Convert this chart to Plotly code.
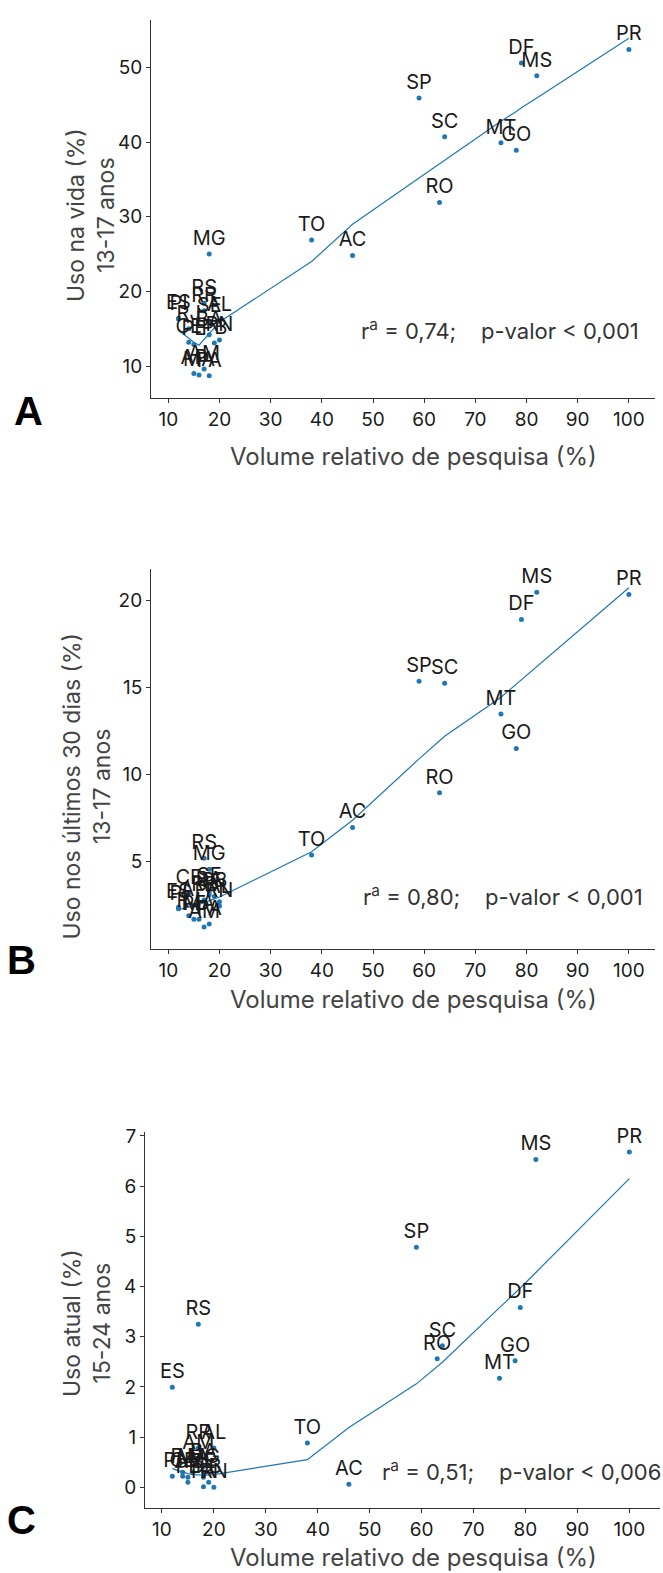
import plotly.graph_objects as go

W, H = 663, 1573

states = ["AC","AL","AP","AM","BA","CE","DF","ES","GO","MA","MT","MS","MG","PA",
          "PB","PR","PE","PI","RJ","RN","RS","RO","RR","SC","SP","SE","TO"]
volume = [46, 20, 15, 17, 18, 14, 79, 12, 78, 16, 75, 82, 18, 18,
          19, 100, 15, 12, 14, 20, 17, 63, 17, 64, 59, 18, 38]
uso_vida = [24.8, 16.1, 9.0, 9.6, 14.2, 13.2, 50.6, 16.4, 38.9, 8.8, 39.9, 48.9, 25.0, 8.7,
            13.1, 52.4, 12.9, 16.3, 15.0, 13.5, 18.4, 31.9, 17.4, 40.7, 45.9, 16.0, 26.9]
uso_30d = [6.96, 2.7, 2.5, 1.25, 3.1, 3.2, 18.9, 2.39, 11.5, 1.7, 13.48, 20.46, 4.56, 1.43,
           3.0, 20.34, 1.7, 2.3, 1.9, 2.46, 5.2, 8.95, 2.8, 15.24, 15.35, 3.3, 5.38]
uso_atual = [0.06, 0.78, 0.2, 0.58, 0.41, 0.22, 3.58, 1.99, 2.52, 0.3, 2.17, 6.53, 0.3, 0.01,
             0.1, 6.68, 0.1, 0.22, 0.3, 0.0, 3.25, 2.56, 0.78, 2.82, 4.78, 0.2, 0.88]

fit_x = [12, 14, 15, 16, 17, 18, 19, 20, 38, 46, 59, 63, 64, 75, 78, 79, 82, 100]
fit_a = [14.8, 13.7, 13.2, 12.8, 13.6, 14.4, 15.1, 15.9, 24.0, 29.0, 35.2, 37.1, 37.6, 42.8, 44.1, 44.6, 45.9, 53.9]
fit_b = [2.25, 2.4, 2.45, 2.55, 2.65, 2.75, 2.85, 2.97, 5.57, 7.38, 10.9, 11.95, 12.2, 14.44, 15.2, 15.45, 16.2, 20.72]
fit_c = [0.37, 0.3, 0.27, 0.25, 0.24, 0.24, 0.24, 0.25, 0.55, 1.19, 2.06, 2.39, 2.49, 3.58, 3.87, 3.97, 4.28, 6.15]

x_ticks = [10, 20, 30, 40, 50, 60, 70, 80, 90, 100]
y_ticks_a = [10, 20, 30, 40, 50]
y_ticks_b = [5, 10, 15, 20]
y_ticks_c = [0, 1, 2, 3, 4, 5, 6, 7]

x_title = "Volume relativo de pesquisa (%)"
y_titles = ["Uso na vida (%)<br>13-17 anos",
            "Uso nos últimos 30 dias (%)<br>13-17 anos",
            "Uso atual (%)<br>15-24 anos"]
stats = ["r<sup>a</sup> = 0,74;\u00a0\u00a0\u00a0\u00a0p-valor < 0,001",
         "r<sup>a</sup> = 0,80;\u00a0\u00a0\u00a0\u00a0p-valor < 0,001",
         "r<sup>a</sup> = 0,51;\u00a0\u00a0\u00a0\u00a0p-valor < 0,006"]
letters = ["A", "B", "C"]

FONT = "Inter"
BLUE = "#1f77b4"

def px(x):
    return x / W

def py(y):
    return 1 - y / H

panels = [
    dict(l=151, r=655, t=13, b=393, xr=[6.62, 105.1], yr=[5.69, 56.36], yt=y_ticks_a,
         ys=uso_vida, fit=fit_a, stat_xy=(500, 324), ytitle_xy=(91, 209),
         xtitle_y=452, letter_xy=(28, 406)),
    dict(l=151, r=655, t=565, b=946, xr=[6.62, 105.1], yr=[0.0, 21.77], yt=y_ticks_b,
         ys=uso_30d, fit=fit_b, stat_xy=(503, 892), ytitle_xy=(87, 783),
         xtitle_y=997, letter_xy=(21, 957)),
    dict(l=145, r=660, t=1130, b=1508, xr=[6.74, 105.9], yr=[-0.42, 7.08], yt=y_ticks_c,
         ys=uso_atual, fit=fit_c, stat_xy=(521, 1470), ytitle_xy=(87, 1322),
         xtitle_y=1557, letter_xy=(21, 1520)),
]

fig = go.Figure()
annotations = []
layout_axes = {}

for i, p in enumerate(panels):
    n = "" if i == 0 else str(i + 1)
    xa, ya = "x" + n, "y" + n
    fig.add_trace(go.Scatter(
        x=fit_x, y=p["fit"], mode="lines", xaxis=xa, yaxis=ya,
        line=dict(color=BLUE, width=1.2), hoverinfo="skip", showlegend=False))
    fig.add_trace(go.Scatter(
        x=volume, y=p["ys"], mode="markers+text", text=states,
        textposition="top center", xaxis=xa, yaxis=ya,
        marker=dict(color=BLUE, size=5),
        textfont=dict(family=FONT, size=20, color="#1a1a1a"),
        cliponaxis=False, showlegend=False))
    axis_common = dict(showline=True, linecolor="#333", linewidth=1, ticks="outside",
                       ticklen=4, tickcolor="#333", showgrid=False, zeroline=False,
                       tickfont=dict(family=FONT, size=19, color="#1a1a1a"))
    layout_axes["xaxis" + n] = dict(domain=[px(p["l"]), px(p["r"])], range=p["xr"],
                                    tickvals=x_ticks, anchor=ya, **axis_common)
    layout_axes["yaxis" + n] = dict(domain=[py(p["b"]), py(p["t"])], range=p["yr"],
                                    tickvals=p["yt"], anchor=xa, **axis_common)
    sx, sy = p["stat_xy"]
    annotations.append(dict(x=px(sx), y=py(sy), xref="paper", yref="paper", text=stats[i],
                            showarrow=False, xanchor="center", yanchor="middle",
                            font=dict(family=FONT, size=22, color="#333")))
    tx, ty = p["ytitle_xy"]
    annotations.append(dict(x=px(tx), y=py(ty), xref="paper", yref="paper", text=y_titles[i],
                            showarrow=False, textangle=-90, xanchor="center", yanchor="middle",
                            font=dict(family=FONT, size=23, color="#444")))
    annotations.append(dict(x=px(413), y=py(p["xtitle_y"]), xref="paper", yref="paper",
                            text=x_title, showarrow=False, xanchor="center", yanchor="middle",
                            font=dict(family=FONT, size=24, color="#444")))
    lx, ly = p["letter_xy"]
    annotations.append(dict(x=px(lx), y=py(ly), xref="paper", yref="paper",
                            text="<b>" + letters[i] + "</b>", showarrow=False,
                            xanchor="center", yanchor="middle",
                            font=dict(family="Liberation Sans", size=40, color="#000")))

fig.update_layout(
    width=W, height=H, margin=dict(l=0, r=0, t=0, b=0),
    paper_bgcolor="white", plot_bgcolor="white",
    annotations=annotations, **layout_axes)

fig.write_html("out.html", config={"displayModeBar": False},
               post_script="document.body.style.margin='0';document.body.style.overflow='hidden';")
